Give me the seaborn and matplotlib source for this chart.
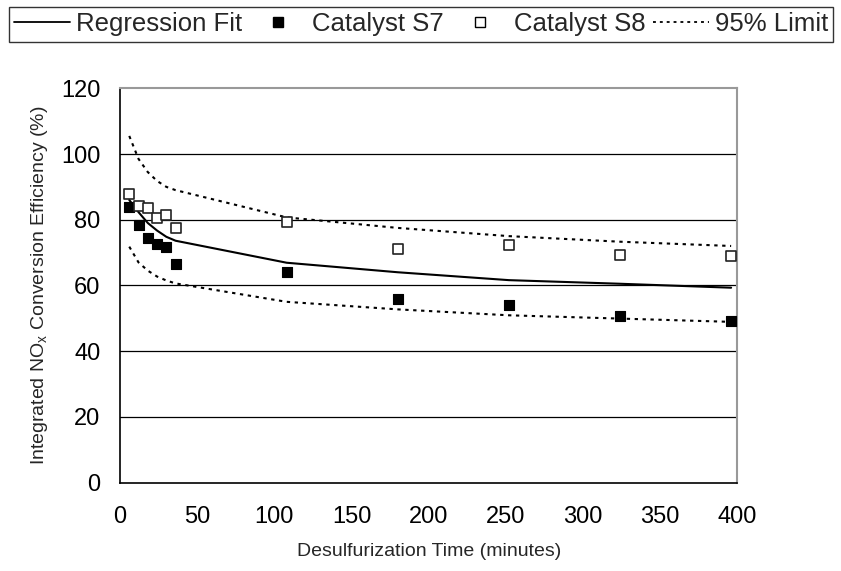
import numpy as np
import pandas as pd
import matplotlib
matplotlib.use("Agg")
import matplotlib.pyplot as plt
import seaborn as sns
from matplotlib.lines import Line2D

# ---- data ----
time_min = [6, 12, 18, 24, 30, 36, 108, 180, 252, 324, 396]
catalyst_s7 = [83.9, 78.4, 74.5, 72.6, 71.8, 66.5, 64.2, 55.8, 54.0, 50.7, 49.3]
catalyst_s8 = [87.8, 84.3, 83.7, 80.6, 81.3, 77.4, 79.4, 71.0, 72.3, 69.2, 68.9]
regression_fit = [86.0, 82.3, 79.0, 76.7, 74.8, 73.6, 66.9, 64.0, 61.6, 60.5, 59.3]
upper_95 = [105.5, 98.5, 94.5, 91.8, 90.0, 89.0, 80.7, 77.5, 75.0, 73.3, 72.0]
lower_95 = [71.8, 67.0, 64.5, 62.7, 61.5, 60.6, 55.0, 52.7, 50.9, 49.9, 48.9]

x_ticks = [0, 50, 100, 150, 200, 250, 300, 350, 400]
y_ticks = [0, 20, 40, 60, 80, 100, 120]

df = pd.DataFrame({
    "t": time_min, "s7": catalyst_s7, "s8": catalyst_s8,
    "fit": regression_fit, "up": upper_95, "lo": lower_95,
})

sns.set_theme(style="white")
plt.rcParams["font.family"] = ["Liberation Sans", "DejaVu Sans"]

fig = plt.figure(figsize=(8.41, 5.71), dpi=100)
ax = fig.add_axes([120 / 841, 1 - 482.5 / 571, (737.3 - 120) / 841, (482.5 - 88.3) / 571])

# gridlines
for yv in y_ticks[1:-1]:
    ax.axhline(yv, color="black", lw=0.9, zorder=0)

dash = (0, (1.6, 2.2))
sns.lineplot(data=df, x="t", y="fit", ax=ax, color="black", lw=1.5, zorder=3)
sns.lineplot(data=df, x="t", y="up", ax=ax, color="black", lw=1.5, linestyle=dash, zorder=3)
sns.lineplot(data=df, x="t", y="lo", ax=ax, color="black", lw=1.5, linestyle=dash, zorder=3)
sns.scatterplot(data=df, x="t", y="s7", ax=ax, marker="s", s=60, color="black",
                edgecolor="black", linewidth=0.8, zorder=4)
sns.scatterplot(data=df, x="t", y="s8", ax=ax, marker="s", s=60, color="white",
                edgecolor="#222222", linewidth=1.2, zorder=4)

ax.set_xlim(0, 400)
ax.set_ylim(0, 120)
ax.set_xticks(x_ticks)
ax.set_yticks(y_ticks)
ax.tick_params(axis="x", labelsize=17, colors="black", length=6, width=1,
               direction="out", pad=11)
ax.tick_params(axis="y", labelsize=17, colors="black", length=6, width=1,
               direction="out", pad=8)

for side in ["left", "bottom"]:
    ax.spines[side].set_color("black")
    ax.spines[side].set_linewidth(1.2)
for side in ["top", "right"]:
    ax.spines[side].set_color("#999999")
    ax.spines[side].set_linewidth(1.5)

ax.set_xlabel("Desulfurization Time (minutes)", fontsize=14, labelpad=11)
ax.set_ylabel("Integrated NO$_\\mathregular{x}$ Conversion Efficiency (%)", fontsize=14, labelpad=8)

handles = [
    Line2D([], [], color="black", lw=1.3),
    Line2D([], [], color="black", marker="s", ls="none", markersize=6.5),
    Line2D([], [], color="white", marker="s", ls="none", markersize=6.5,
           markeredgecolor="black", markeredgewidth=1),
    Line2D([], [], color="black", lw=1.3, linestyle=dash),
]
labels = ["Regression Fit", "Catalyst S7", "Catalyst S8", "95% Limit"]
leg = fig.legend(handles, labels, loc="upper left", bbox_to_anchor=(9 / 841, 1 - 7.3 / 571),
                 ncol=4, fontsize=18.5, frameon=True, fancybox=False, handlelength=2.18,
                 handletextpad=0.23, columnspacing=0.31, borderpad=0.2, borderaxespad=0)
leg.get_frame().set_edgecolor("black")
leg.get_frame().set_linewidth(1.0)

fig.savefig("out.png", dpi=100)
